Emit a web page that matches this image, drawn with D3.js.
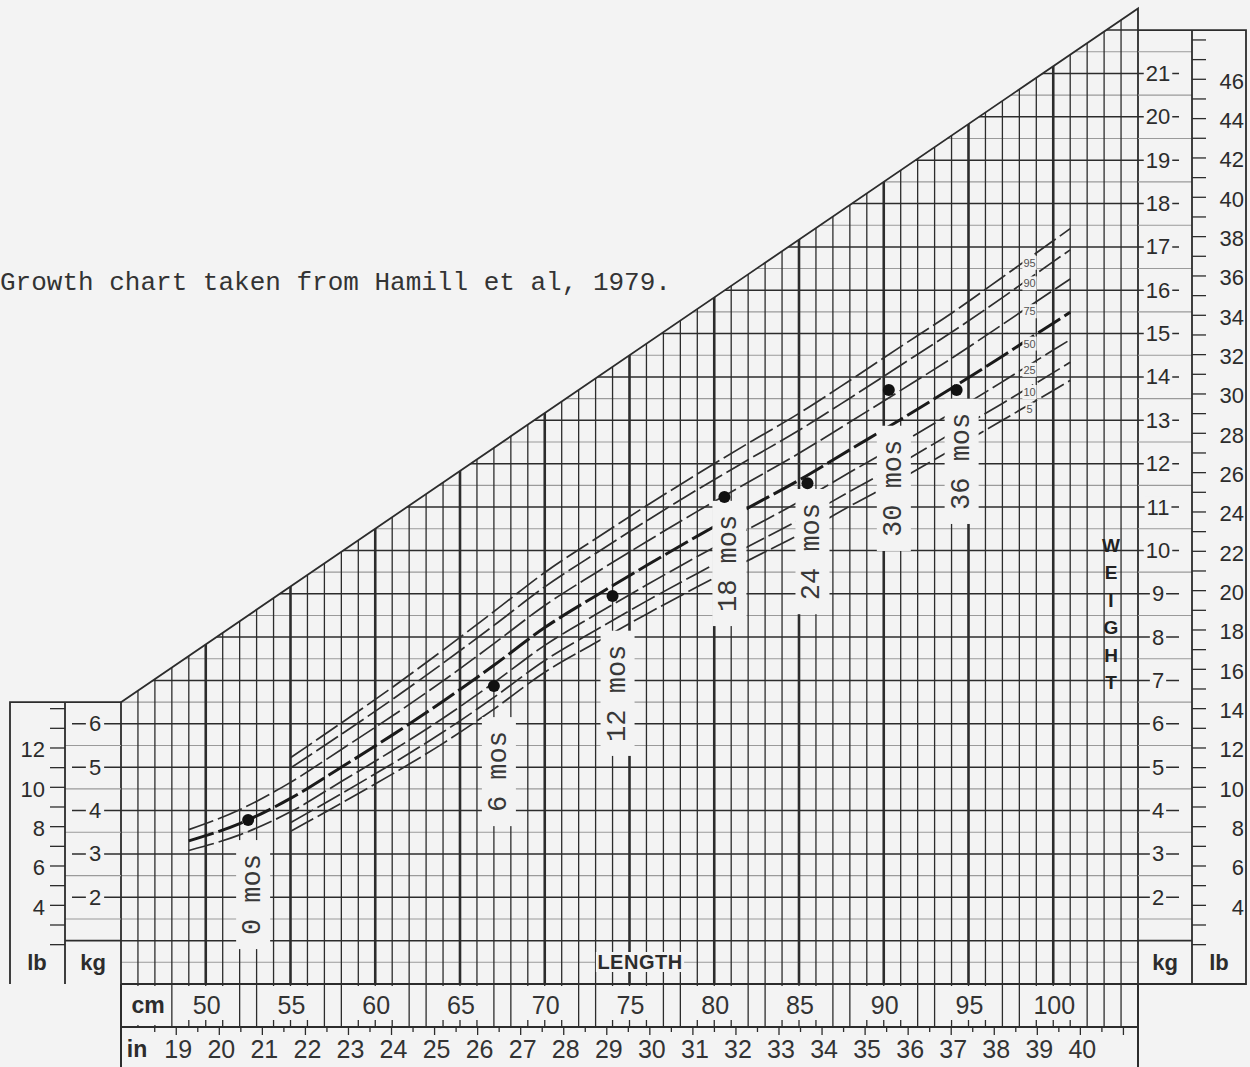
<!DOCTYPE html>
<html>
<head>
<meta charset="utf-8">
<script src="https://cdn.jsdelivr.net/npm/d3@7"></script>
<style>
  html, body { margin: 0; padding: 0; background: #f3f3f3; }
  svg { display: block; }
</style>
</head>
<body>
<svg id="chart" width="1250" height="1067"></svg>
<script>
// ---- Weight-for-length percentiles (kg) against recumbent length (cm) ----
const lengthsFull  = [49, 52, 55, 58, 61, 64, 67, 70, 73, 76, 79, 82, 85, 88, 91, 94, 97, 100, 101];
const lengthsShort = [55, 58, 61, 64, 67, 70, 73, 76, 79, 82, 85, 88, 91, 94, 97, 100, 101];

const p95 = [5.22, 6.02, 6.84, 7.70, 8.59, 9.49, 10.27, 11.03, 11.76, 12.47, 13.16, 13.92, 14.70, 15.47, 16.30, 17.14, 17.42];
const p90 = [4.98, 5.76, 6.56, 7.40, 8.27, 9.16, 9.93, 10.68, 11.40, 12.09, 12.77, 13.51, 14.27, 15.03, 15.83, 16.66, 16.93];
const p75 = [3.56, 4.02, 4.65, 5.41, 6.18, 6.99, 7.85, 8.73, 9.48, 10.20, 10.90, 11.57, 12.24, 12.96, 13.69, 14.43, 15.21, 16.00, 16.26];
const p50 = [3.30, 3.70, 4.28, 5.00, 5.74, 6.52, 7.35, 8.22, 8.95, 9.65, 10.33, 10.98, 11.62, 12.32, 13.02, 13.74, 14.48, 15.24, 15.49];
const p25 = [3.08, 3.44, 3.97, 4.67, 5.38, 6.13, 6.95, 7.81, 8.52, 9.20, 9.86, 10.49, 11.12, 11.80, 12.47, 13.17, 13.89, 14.62, 14.86];
const p10 = [3.72, 4.39, 5.08, 5.81, 6.61, 7.46, 8.16, 8.83, 9.47, 10.09, 10.70, 11.36, 12.01, 12.70, 13.39, 14.10, 14.34];
const p5  = [3.52, 4.17, 4.84, 5.55, 6.34, 7.19, 7.87, 8.53, 9.16, 9.77, 10.36, 11.02, 11.65, 12.32, 13.00, 13.69, 13.92];

// ---- One child's measurements at each age ----
const ages       = ["0 mos", "6 mos", "12 mos", "18 mos", "24 mos", "30 mos", "36 mos"];
const ageLength  = [52.5, 67.0, 74.0, 80.6, 85.5, 90.3, 94.3];
const ageWeight  = [3.78, 6.87, 8.95, 11.23, 11.55, 13.70, 13.70];

// ---- Tick labels ----
const cmLabels       = [50, 55, 60, 65, 70, 75, 80, 85, 90, 95, 100];
const inchLabels     = [19, 20, 21, 22, 23, 24, 25, 26, 27, 28, 29, 30, 31, 32, 33, 34, 35, 36, 37, 38, 39, 40];
const kgLabelsRight  = [2, 3, 4, 5, 6, 7, 8, 9, 10, 11, 12, 13, 14, 15, 16, 17, 18, 19, 20, 21];
const kgLabelsLeft   = [2, 3, 4, 5, 6];
const lbLabelsRight  = [4, 6, 8, 10, 12, 14, 16, 18, 20, 22, 24, 26, 28, 30, 32, 34, 36, 38, 40, 42, 44, 46];
const lbLabelsLeft   = [4, 6, 8, 10, 12];
const titleText      = "Growth chart taken from Hamill et al, 1979.";

// ---- Layout ----
const W = 1250, H = 1067;
const ink = "#2c2c2c", soft = "#9a9a9a", paper = "#f3f3f3";
const sans = "'Liberation Sans', Arial, Helvetica, sans-serif";
const mono = "'Liberation Mono', 'Courier New', monospace";
const LB = 0.45359237;

const x = d3.scaleLinear().domain([45, 105]).range([121, 1138]);
const y = d3.scaleLinear().domain([0, 22.5]).range([984, 8.4]);
const kgTop = cm => 6.5 + (cm - 45) * 16 / 60;   // upper edge of the graph paper

const svg = d3.select("#chart");
svg.append("rect").attr("width", W).attr("height", H).attr("fill", paper);

// Graph paper clipped below the slanted edge
const paperPoly = [[45, 0], [45, 6.5], [105, 22.5], [105, 0]];
svg.append("defs").append("clipPath").attr("id", "gridClip")
  .append("path")
  .attr("d", "M" + paperPoly.map(p => [x(p[0]), y(p[1])].join(",")).join("L") + "Z");

const grid = svg.append("g").attr("clip-path", "url(#gridClip)");
grid.selectAll("line.half").data(d3.range(0.5, 22.5, 1)).join("line")
  .attr("x1", x(45)).attr("x2", x(105)).attr("y1", d => y(d)).attr("y2", d => y(d))
  .attr("stroke", soft).attr("stroke-width", 1.1);
grid.selectAll("line.full").data(d3.range(1, 23, 1)).join("line")
  .attr("x1", x(45)).attr("x2", x(105)).attr("y1", d => y(d)).attr("y2", d => y(d))
  .attr("stroke", ink).attr("stroke-width", 1.5);
grid.selectAll("line.v").data(d3.range(46, 105)).join("line")
  .attr("x1", d => x(d)).attr("x2", d => x(d)).attr("y1", y(0)).attr("y2", d => y(kgTop(d)) - 2)
  .attr("stroke", ink).attr("stroke-width", d => d % 5 === 0 ? 2.6 : 1.3);

// Outline of the paper
svg.append("path")
  .attr("d", `M${x(45)},${y(0)}L${x(45)},${y(6.5)}L${x(105)},${y(22.5)}L${x(105)},${y(0)}`)
  .attr("fill", "none").attr("stroke", ink).attr("stroke-width", 1.8);

// ---- Percentile curves ----
const curves = [
  { name: "95", len: lengthsShort, w: p95 },
  { name: "90", len: lengthsShort, w: p90 },
  { name: "75", len: lengthsFull,  w: p75 },
  { name: "50", len: lengthsFull,  w: p50 },
  { name: "25", len: lengthsFull,  w: p25 },
  { name: "10", len: lengthsShort, w: p10 },
  { name: "5",  len: lengthsShort, w: p5 }
];
const line = d3.line().x(d => x(d[0])).y(d => y(d[1])).curve(d3.curveMonotoneX);
svg.append("g").selectAll("path").data(curves).join("path")
  .attr("d", c => line(c.len.map((l, i) => [l, c.w[i]])))
  .attr("fill", "none")
  .attr("stroke", c => c.name === "50" ? "#1a1a1a" : "#2e2e2e")
  .attr("stroke-width", c => c.name === "50" ? 3.0 : 1.7)
  .attr("stroke-dasharray", "26 5");

// Helper: text on a plain patch that hides the paper beneath it
function tag(g, tx, ty, str, size, opt = {}) {
  const t = g.append("text").attr("x", tx).attr("y", ty).text(str)
    .attr("font-family", opt.family || sans).attr("font-size", size)
    .attr("font-weight", opt.weight || "normal").attr("fill", opt.fill || ink)
    .attr("text-anchor", opt.anchor || "middle").attr("dominant-baseline", "central");
  if (opt.pad !== undefined) {
    const b = t.node().getBBox();
    const padY = opt.padY !== undefined ? opt.padY : opt.pad;
    g.insert("rect", () => t.node())
      .attr("x", b.x - opt.pad).attr("y", b.y - padY)
      .attr("width", b.width + 2 * opt.pad).attr("height", b.height + 2 * padY)
      .attr("fill", paper);
  }
  return t;
}

// Percentile names near the right ends of the curves
const pctG = svg.append("g");
curves.forEach(c => {
  const at = d3.scaleLinear().domain(c.len).range(c.w);
  tag(pctG, x(98.6), y(at(98.6)) + 5, c.name, 11, { fill: "#555", pad: 1 });
});

// ---- Left weight scale (lb | kg) ----
const left = svg.append("g");
left.selectAll("line.lbt").data(d3.range(2, 15)).join("line")
  .attr("x1", 50).attr("x2", 65).attr("y1", d => y(d * LB)).attr("y2", d => y(d * LB))
  .attr("stroke", ink).attr("stroke-width", 1.3);
left.selectAll("line.kgh").data(d3.range(1.5, 6.5, 1)).join("line")
  .attr("x1", 65).attr("x2", 121).attr("y1", d => y(d)).attr("y2", d => y(d))
  .attr("stroke", soft).attr("stroke-width", 1.1);
left.selectAll("line.kgt").data(kgLabelsLeft).join("line")
  .attr("x1", 72).attr("x2", 121).attr("y1", d => y(d)).attr("y2", d => y(d))
  .attr("stroke", ink).attr("stroke-width", 1.5);
kgLabelsLeft.forEach(k => tag(left, 95, y(k), k, 22, { pad: 3, padY: -2 }));
lbLabelsLeft.forEach(l => tag(left, 45, y(l * LB) + 2, l, 22, { anchor: "end" }));
left.append("path")
  .attr("d", `M10,${y(0)}L10,${y(6.5)}L${x(45)},${y(6.5)}M65,${y(0)}L65,${y(6.5)}M65,${y(1)}L${x(45)},${y(1)}`)
  .attr("fill", "none").attr("stroke", ink).attr("stroke-width", 1.8);
tag(left, 37, 962, "lb", 22, { weight: "bold" });
tag(left, 93, 962, "kg", 22, { weight: "bold" });

// ---- Right weight scale (kg | lb) ----
const right = svg.append("g");
right.selectAll("line.kgh").data(d3.range(1.5, 22, 1)).join("line")
  .attr("x1", x(105)).attr("x2", 1192).attr("y1", d => y(d)).attr("y2", d => y(d))
  .attr("stroke", soft).attr("stroke-width", 1.1);
right.selectAll("line.kgt").data(kgLabelsRight).join("line")
  .attr("x1", x(105)).attr("x2", 1179).attr("y1", d => y(d)).attr("y2", d => y(d))
  .attr("stroke", ink).attr("stroke-width", 1.5);
kgLabelsRight.forEach(k => tag(right, 1158, y(k), k, 22, { pad: 2, padY: -2 }));
right.selectAll("line.lbt").data(d3.range(2, 49)).join("line")
  .attr("x1", 1192).attr("x2", 1206).attr("y1", d => y(d * LB)).attr("y2", d => y(d * LB))
  .attr("stroke", ink).attr("stroke-width", 1.3);
lbLabelsRight.forEach(l => tag(right, 1244, y(l * LB) + 2, l, 22, { anchor: "end" }));
right.append("path")
  .attr("d", `M${x(105)},${y(22)}L1246,${y(22)}L1246,${y(0)}L${x(105)},${y(0)}M1192,${y(22)}L1192,${y(0)}M${x(105)},${y(1)}L1192,${y(1)}`)
  .attr("fill", "none").attr("stroke", ink).attr("stroke-width", 1.8);
tag(right, 1165, 962, "kg", 22, { weight: "bold" });
tag(right, 1219, 962, "lb", 22, { weight: "bold" });

// Vertical WEIGHT title, letters stacked
const weightG = svg.append("g");
"WEIGHT".split("").forEach((ch, i) =>
  tag(weightG, 1111, 545 + i * 27.5, ch, 19, { weight: "bold", fill: "#222" }));

// LENGTH title in the bottom row of the paper
tag(svg.append("g"), 640, 962, "LENGTH", 20, { weight: "bold", pad: 3, padY: -1 })
  .attr("letter-spacing", 0.5);

// ---- Length scales (cm | in) ----
const bottom = svg.append("g");
const cmBandTop = y(0), cmBandBot = 1027;
bottom.selectAll("line.cmv").data(d3.range(46, 105)).join("line")
  .attr("x1", d => x(d)).attr("x2", d => x(d)).attr("y1", cmBandTop).attr("y2", cmBandBot)
  .attr("stroke", ink).attr("stroke-width", 1.3);
bottom.append("rect").attr("x", x(45) + 2).attr("y", cmBandTop + 2)
  .attr("width", x(47.6) - x(45) - 2).attr("height", cmBandBot - cmBandTop - 4).attr("fill", paper);
bottom.selectAll("rect.cml").data(cmLabels).join("rect")
  .attr("x", d => x(d - 1.45)).attr("width", x(2.9) - x(0))
  .attr("y", cmBandTop + 2).attr("height", 34).attr("fill", paper);
cmLabels.forEach(c => tag(bottom, x(c) + 1, 1005, c, 25, { fill: "#333" }));
tag(bottom, 148, 1005, "cm", 23, { weight: "bold" });

bottom.selectAll("line.inT").data(d3.range(18.5, 41.5, 0.5)).join("line")
  .attr("x1", d => x(d * 2.54)).attr("x2", d => x(d * 2.54))
  .attr("y1", cmBandBot).attr("y2", d => cmBandBot + (d % 1 === 0 ? 8 : 5))
  .attr("stroke", ink).attr("stroke-width", 1.3);
inchLabels.forEach(n => tag(bottom, x(n * 2.54) + 2, 1049, n, 25, { fill: "#333" }));
tag(bottom, 137, 1049, "in", 23, { weight: "bold" });

bottom.append("path")
  .attr("d", `M${x(45)},${cmBandTop}L${x(45)},${H}M${x(105)},${cmBandTop}L${x(105)},${H}M${x(45)},${cmBandBot}L${x(105)},${cmBandBot}M${x(45)},${cmBandTop}L${x(105)},${cmBandTop}`)
  .attr("fill", "none").attr("stroke", ink).attr("stroke-width", 2);

// ---- Age labels and measured points ----
const labelDrop = [115, 126, 146, 115, 117, 147, 120];   // px from point to start of label
const ageG = svg.append("g");
ages.forEach((a, i) => {
  const px = x(ageLength[i]), py = y(ageWeight[i]);
  const g = ageG.append("g").attr("transform", `translate(${px + 5},${py + labelDrop[i]}) rotate(-90)`);
  const r = g.append("rect").attr("fill", paper);
  const t = g.append("text").text(a).attr("x", 0).attr("y", 0)
    .attr("font-family", mono).attr("font-size", 27).attr("fill", "#383838")
    .attr("dominant-baseline", "central");
  const len = t.node().getComputedTextLength();
  r.attr("x", -14).attr("y", -17).attr("width", len + 28).attr("height", 34);
});
svg.append("g").selectAll("circle").data(ages).join("circle")
  .attr("cx", (d, i) => x(ageLength[i])).attr("cy", (d, i) => y(ageWeight[i]))
  .attr("r", 6).attr("fill", "#111");

// ---- Caption ----
svg.append("text").attr("x", 0).attr("y", 290).text(titleText)
  .attr("font-family", mono).attr("font-size", 26).attr("fill", "#333");
</script>
</body>
</html>
